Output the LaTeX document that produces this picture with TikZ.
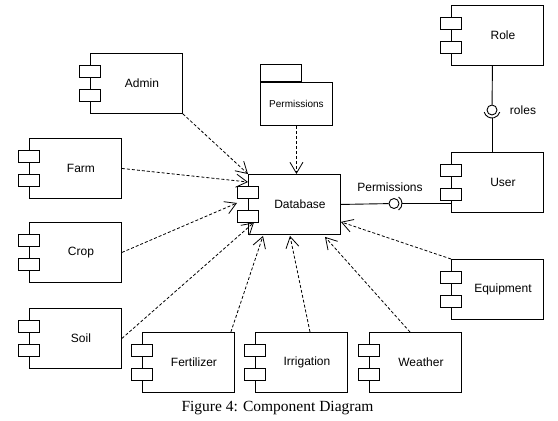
\documentclass[tikz,border=0pt]{standalone}
\usepackage{
	fontspec,			% Fonts
	tikz
}
\setmainfont{Liberation Serif}
\newfontfamily\arialfont{Liberation Sans}
\usetikzlibrary{arrows.meta}

\tikzset{
	comp/.style={draw, line width=0.9pt, minimum width=92pt, minimum height=60pt, anchor=north west, inner sep=0pt},
	port/.style={draw, line width=0.9pt, fill=white, minimum width=21pt, minimum height=12pt, inner sep=0pt},
	dep/.style={line width=0.8pt, dash pattern=on 3pt off 2pt, -{Straight Barb[length=11pt,width=13pt,line width=0.8pt]}},
	lbl/.style={font=\arialfont\fontsize{12}{14}\selectfont},
	ball/.style={draw, circle, line width=0.9pt, minimum size=10pt, inner sep=0pt}
}

% component box with two ports: name, x, y (top left), text
\newcommand\component[4]{
	\node[comp, label={[lbl, xshift=5.5pt]center:#4}] (#1) at (#2,#3) {};
	\node[port] (#1p1) at ([yshift=-18pt]#1.north west) {};
	\node[port] (#1p2) at ([yshift=-42pt]#1.north west) {};
}

\begin{document}
\begin{tikzpicture}[x=1pt,y=1pt]
		\useasboundingbox (0,0) rectangle (558,-421);
		\component{admin}{90}{-53}{Admin}
		\component{farm}{29}{-138}{Farm}
		\component{crop}{29}{-222}{Crop}
		\component{soil}{29}{-308}{Soil}
		\component{fert}{142}{-332}{Fertilizer}
		\component{irrig}{255}{-332}{Irrigation}
		\component{weather}{369}{-332}{Weather}
		\component{equip}{451}{-259}{Equipment}
		\component{user}{451}{-152}{User}
		\component{role}{451}{-5}{Role}
		\component{db}{248}{-174}{Database}
		% package
		\node[draw, line width=0.9pt, minimum width=41pt, minimum height=17pt, inner sep=0pt, anchor=south west] (pkgtab) at (260,-82) {};
		\node[draw, line width=0.9pt, minimum width=72pt, minimum height=43pt, inner sep=0pt, anchor=north west, font=\arialfont\fontsize{10}{12}\selectfont] (pkg) at (260,-82) {Permissions};
		% dependencies
		\draw[dep] (admin.south east) -- (db.north west);
		\draw[dep] (farm.east) -- ([yshift=-8pt]db.north west);
		\draw[dep] (crop.east) -- ([xshift=-11pt,yshift=-29pt]db.north west);
		\draw[dep] (soil.east) -- ([xshift=-5pt]dbp2.south east);
		\draw[dep] ([xshift=-4pt]fert.north east) -- ([xshift=15pt,yshift=-1pt]db.south west);
		\draw[dep] ([xshift=55pt]irrig.north west) -- ([xshift=42pt,yshift=-1pt]db.south west);
		\draw[dep] ([xshift=41pt]weather.north west) -- ([xshift=77pt,yshift=-2pt]db.south west);
		\draw[dep] (equip.north west) -- ([yshift=13pt]db.south east);
		\draw[dep] (pkg.south) -- (db.north -| pkg.south);
		% provided / required interfaces
		\node[ball] (pball) at (394,-203.5) {};
		\draw[line width=0.9pt] (db.east) -- (pball);
		\draw[line width=0.9pt] ([shift={(-55:8)}]pball.center) arc[start angle=-55, end angle=55, radius=8];
		\coordinate (psock) at ([xshift=8pt]pball.center);
		\draw[line width=0.9pt] (psock) -- (psock -| user.west);
		\node[lbl] (plabel) at (390,-187) {Permissions};
		\node[ball] (rball) at (492,-110) {};
		\draw[line width=0.9pt] ([xshift=-5pt]role.south) -- (rball);
		\draw[line width=0.9pt] ([shift={(195:8)}]rball.center) arc[start angle=195, end angle=345, radius=8];
		\coordinate (rsock) at ([yshift=-8pt]rball.center);
		\draw[line width=0.9pt] (rsock) -- (rsock |- user.north);
		\node[lbl] (rlabel) at (523,-110) {roles};
		% caption
		\node[font=\fontsize{15.5}{18}\selectfont] (caption) at (277.5,-408) {Figure 4: Component Diagram};
	\end{tikzpicture}
\end{document}
